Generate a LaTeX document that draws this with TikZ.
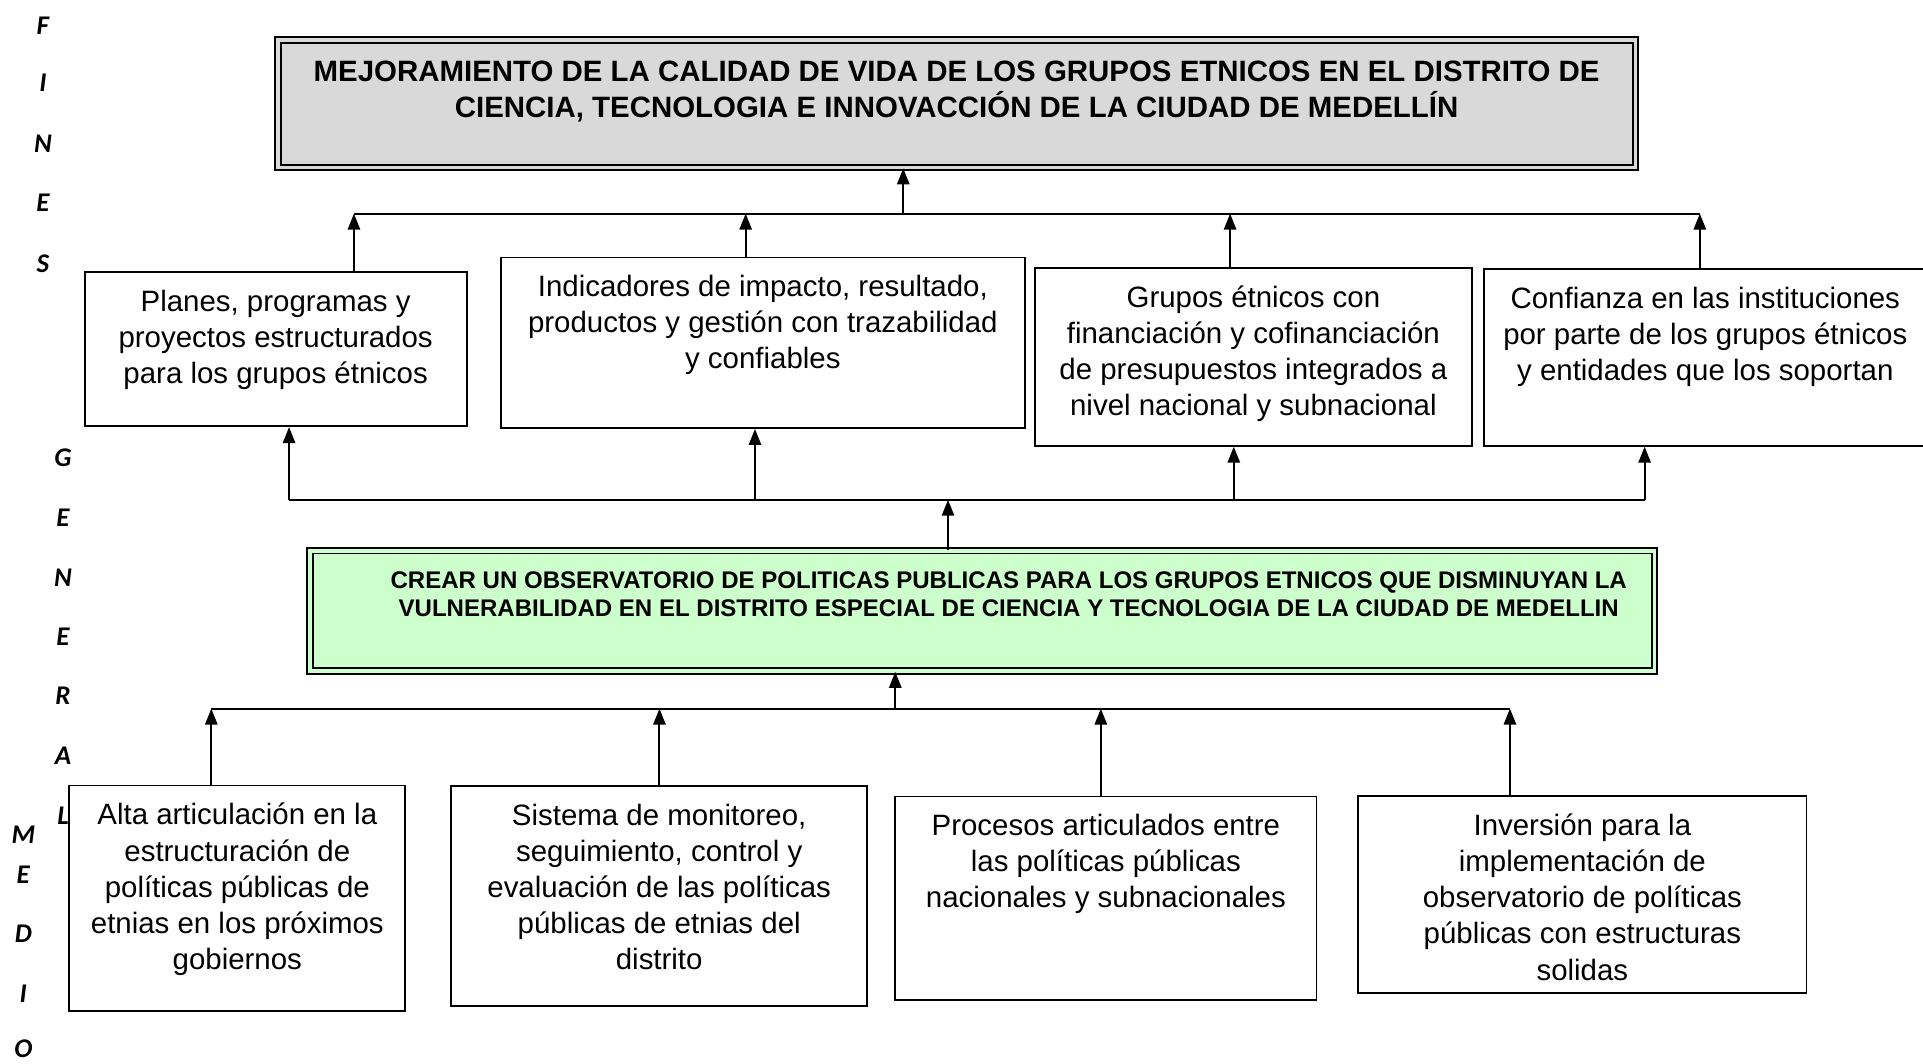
\documentclass[tikz,border=0pt]{standalone}
\usepackage{fontspec}
\setmainfont{Liberation Sans}
\newfontfamily\letras{Carlito}
\usetikzlibrary{arrows.meta}
\definecolor{grisfin}{HTML}{D9D9D9}
\definecolor{verdeobj}{HTML}{CCFFCC}

\begin{document}
\begin{tikzpicture}[x=1pt, y=-1pt,
        caja/.style = {draw, line width=1.5pt, inner sep=0pt},
        doble/.style = {draw, line width=1.6pt, double distance=3pt, inner sep=0pt},
        texto/.style = {align=center, inner sep=0pt, anchor=north, yshift=-15pt,
            font=\fontsize{24}{29.5}\selectfont, execute at begin node=\strut},
        linea/.style = {line width=1.6pt},
        flecha/.style = {line width=1.6pt, -{Triangle[width=10pt, length=13pt]}},
        letra/.style = {font=\letras\bfseries\itshape\fontsize{22}{26}\selectfont, inner sep=0pt}]
    \useasboundingbox (0,0) rectangle (1568,867);

    % fin
    \node[doble, fill=grisfin, double=grisfin, minimum width=1107pt, minimum height=104pt,
        label={[texto, yshift=-3pt, font=\bfseries\fontsize{24}{29}\selectfont]north:{MEJORAMIENTO DE LA CALIDAD DE VIDA DE LOS GRUPOS ETNICOS EN EL DISTRITO DE\\CIENCIA, TECNOLOGIA E INNOVACCIÓN DE LA CIUDAD DE MEDELLÍN}}]
        (fin) at (780,84.5) {};

    % fines
    \node[caja, minimum width=311.5pt, minimum height=125.5pt,
        label={[texto]north:{Planes, programas y\\proyectos estructurados\\para los grupos étnicos}}]
        (b1) at (224.75,284.75) {};
    \node[caja, minimum width=427pt, minimum height=139pt,
        label={[texto]north:{Indicadores de impacto, resultado,\\productos y gestión con trazabilidad\\y confiables}}]
        (b2) at (622,279.5) {};
    \node[caja, minimum width=356pt, minimum height=145pt,
        label={[texto]north:{Grupos étnicos con\\financiación y cofinanciación\\de presupuestos integrados a\\nivel nacional y subnacional}}]
        (b3) at (1022,291) {};
    \node[caja, minimum width=361pt, minimum height=144pt,
        label={[texto]north:{Confianza en las instituciones\\por parte de los grupos étnicos\\y entidades que los soportan}}]
        (b4) at (1390.5,291.5) {};

    % objetivo
    \node[doble, fill=verdeobj, double=verdeobj, minimum width=1096pt, minimum height=98pt,
        label={[texto, xshift=21.5pt, yshift=-2.5pt, font=\bfseries\fontsize{19.6}{23}\selectfont]north:{CREAR UN OBSERVATORIO DE POLITICAS PUBLICAS PARA LOS GRUPOS ETNICOS QUE DISMINUYAN LA\\VULNERABILIDAD EN EL DISTRITO ESPECIAL DE CIENCIA Y TECNOLOGIA DE LA CIUDAD DE MEDELLIN}}]
        (obj) at (801,498) {};

    % medios
    \node[caja, minimum width=274pt, minimum height=184pt,
        label={[texto]north:{Alta articulación en la\\estructuración de\\políticas públicas de\\etnias en los próximos\\gobiernos}}]
        (m1) at (193.5,732.5) {};
    \node[caja, minimum width=339pt, minimum height=179pt,
        label={[texto]north:{Sistema de monitoreo,\\seguimiento, control y\\evaluación de las políticas\\públicas de etnias del\\distrito}}]
        (m2) at (537.5,730.5) {};
    \node[caja, minimum width=343.5pt, minimum height=166pt,
        label={[texto]north:{Procesos articulados entre\\las políticas públicas\\nacionales y subnacionales}}]
        (m3) at (901.75,732.5) {};
    \node[caja, minimum width=365.5pt, minimum height=160.5pt,
        label={[texto]north:{Inversión para la\\implementación de\\observatorio de políticas\\públicas con estructuras\\solidas}}]
        (m4) at (1290.25,729.25) {};

    % conectores arriba
    \coordinate (f0) at (736.5,174.2);
    \coordinate (f1) at (288.6,174.2);
    \coordinate (f2) at (608,174.2);
    \coordinate (f3) at (1003,174.2);
    \coordinate (f4) at (1386,174.2);
    \draw[linea] (f1) -- (f4);
    \draw[flecha] (f0) -- (f0 |- fin.south);
    \foreach \i in {1,...,4}
        \draw[flecha] (f\i |- b\i.north) -- (f\i);

    % conectores centro
    \coordinate (g0) at (773,407.5);
    \coordinate (g1) at (235.7,407.5);
    \coordinate (g2) at (615.6,407.5);
    \coordinate (g3) at (1006,407.5);
    \coordinate (g4) at (1341,407.5);
    \draw[linea] (g1) -- (g4);
    \draw[flecha] (g0 |- obj.north) -- (g0);
    \foreach \i in {1,...,4}
        \draw[flecha] (g\i) -- (g\i |- b\i.south);

    % conectores abajo
    \coordinate (h0) at (730,577.8);
    \coordinate (h1) at (172.3,577.8);
    \coordinate (h2) at (537.7,577.8);
    \coordinate (h3) at (897.6,577.8);
    \coordinate (h4) at (1231.2,577.8);
    \draw[linea] (h1) -- (h4);
    \draw[flecha] (h0) -- (h0 |- obj.south);
    \foreach \i in {1,...,4}
        \draw[flecha] (h\i |- m\i.north) -- (h\i);

    % letras
    \foreach \l/\y [count=\k] in {F/20.7, I/67.5, N/117, E/165.4, S/215}
        \node[letra] (lf\k) at (35,\y) {\l};
    \foreach \l/\y [count=\k] in {G/373.6, E/421.8, N/470.8, E/519, R/567, A/616, L/665}
        \node[letra] (lg\k) at (51.4,\y) {\l};
    \foreach \l/\y [count=\k] in {M/681, E/713, D/761, I/810, O/855}
        \node[letra] (lm\k) at (19,\y) {\l};
\end{tikzpicture}
\end{document}
